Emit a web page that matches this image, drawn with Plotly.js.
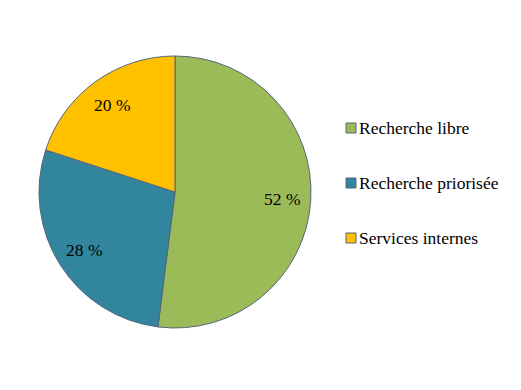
<!DOCTYPE html>
<html>
<head>
<meta charset="utf-8">
<script src="https://cdn.plot.ly/plotly-3.0.1.min.js"></script>
<style>html,body{margin:0;padding:0;background:#fff;}#chart{width:521px;height:390px;}</style>
</head>
<body>
<div id="chart"></div>
<script>
const categories = ["Recherche libre", "Recherche priorisée", "Services internes"];
const values = [52, 28, 20];
const colors = ["#9BBB59", "#31859C", "#FFC000"];

const W = 521, H = 390;
const FONT = "Liberation Serif";
const FS = 17.5;
const pieX0 = 39, pieX1 = 311, pieY0 = 56, pieY1 = 328;
const pieTrace = {
  type: "pie",
  labels: categories,
  values: values,
  sort: false,
  direction: "clockwise",
  rotation: 0,
  marker: {colors: colors, line: {color: "#56657a", width: 1}},
  textinfo: "none",
  hoverinfo: "none",
  showlegend: false,
  domain: {x: [pieX0 / W, pieX1 / W], y: [1 - pieY1 / H, 1 - pieY0 / H]}
};

const shapes = [], annotations = [];

// slice labels placed at each slice's mid-angle, derived from the values
const total = values.reduce((a, b) => a + b, 0);
const cx = (pieX0 + pieX1) / 2, cy = (pieY0 + pieY1) / 2, R = (pieX1 - pieX0) / 2;
let cum = 0;
values.forEach((v, i) => {
  const mid = (cum + v / 2) / total * 2 * Math.PI;
  cum += v;
  const px = cx + 0.79 * R * Math.sin(mid), py = cy - 0.79 * R * Math.cos(mid);
  annotations.push({xref: "paper", yref: "paper", x: px / W, y: 1 - py / H,
    xanchor: "center", yanchor: "middle", showarrow: false, text: v + " %",
    font: {family: FONT, size: FS, color: "#000"}});
});

// custom legend built from the arrays
const legX = 346 / W, legSize = 10, legY0 = 128, legStep = 55;
categories.forEach((c, i) => {
  const yc = legY0 + i * legStep;
  shapes.push({type: "rect", xref: "paper", yref: "paper",
    x0: legX, x1: legX + legSize / W,
    y0: 1 - (yc + legSize / 2) / H, y1: 1 - (yc - legSize / 2) / H,
    fillcolor: colors[i], line: {color: "#56657a", width: 1}});
  annotations.push({xref: "paper", yref: "paper", x: (legX * W + legSize + 1) / W, y: 1 - yc / H,
    xanchor: "left", yanchor: "middle", showarrow: false, text: c,
    font: {family: FONT, size: FS, color: "#000"}});
});

Plotly.newPlot("chart", [pieTrace], {
  width: W, height: H,
  margin: {l: 0, r: 0, t: 0, b: 0},
  paper_bgcolor: "#fff",
  font: {family: FONT, size: FS, color: "#000"},
  showlegend: false,
  shapes: shapes,
  annotations: annotations
}, {displayModeBar: false});
</script>
</body>
</html>
